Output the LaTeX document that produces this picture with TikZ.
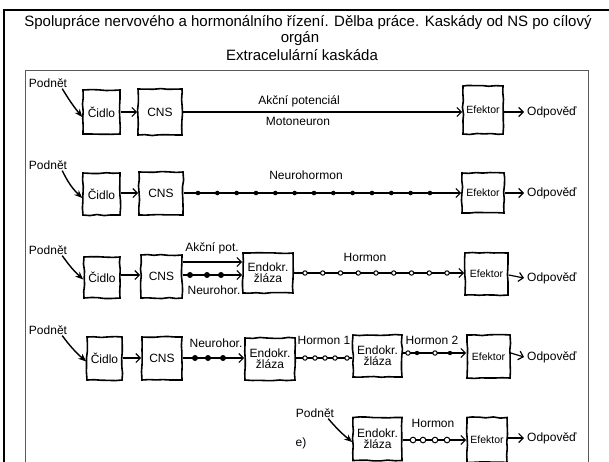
\documentclass[tikz,border=0pt]{standalone}
\usepackage{fontspec}
\setmainfont{Liberation Sans}
\usetikzlibrary{arrows.meta,decorations.pathmorphing}

\begin{document}
\begin{tikzpicture}[x=1pt,y=-1pt]
\pgfmathsetseed{11}
\tikzset{
  box/.style={draw, line width=1.6pt, inner sep=0pt, align=center,
    font=\fontsize{12}{11}\selectfont,
    decorate, decoration={random steps, segment length=7pt, amplitude=0.6pt}},
  lbl/.style={inner sep=0pt, font=\fontsize{12}{12}\selectfont},
  small/.style={font=\fontsize{10.5}{10.5}\selectfont},
  head/.style={inner sep=0pt, font=\fontsize{15}{15}\selectfont},
  arr/.style={line width=1.2pt, -{Straight Barb[length=4.5pt,width=9pt]}},
  plain/.style={line width=1.2pt},
  parr/.style={line width=1.4pt, -{Stealth[length=8pt,width=6.5pt]}},
  fdot/.style={fill=black},
  odot/.style={draw=black, fill=white, line width=1pt},
}
\useasboundingbox (0,0) rectangle (609,461);
\clip (0,0) rectangle (609,461);

% frames
\draw[line width=2pt] (3.5,470) -- (3.5,9.5) -- (615,9.5);
\draw[gray!70!black, line width=0.8pt] (25,470) -- (25,70.5) -- (588,70.5) -- (588,470);

% heading
\node[head] (t1) at (308,23) {Spolupráce nervového a hormonálního řízení. Dělba práce. Kaskády od NS po cílový};
\node[head] (t2) at (300,39) {orgán};
\node[head] (t3) at (302,55) {Extracelulární kaskáda};

% ---------- row a ----------
\node[lbl] (p1) at (48,83) {Podnět};
\node[box, minimum width=37pt, minimum height=44pt] (c1) at (101.5,112) {Čidlo};
\node[box, minimum width=44pt, minimum height=46pt] (n1) at (160,112) {CNS};
\node[box, small, minimum width=40pt, minimum height=48pt] (e1) at (483,110) {Efektor};
\node[lbl, anchor=west] (o1) at (527,112) {Odpověď};
\draw[parr] ([xshift=-5pt,yshift=-1pt]p1.south east) to[bend right=4] ([yshift=-5pt]c1.west);
\draw[arr] (c1.east |- 0,112) -- (n1.west |- 0,112);
\draw[arr] (n1.east |- 0,112) -- (e1.west |- 0,112);
\draw[arr] (e1.east |- 0,112) -- ([xshift=-3pt]o1.west);
\node[lbl] (a1) at (299,101) {Akční potenciál};
\node[lbl] (m1) at (298,121) {Motoneuron};

% ---------- row b ----------
\node[lbl] (p2) at (48,165) {Podnět};
\node[box, minimum width=37pt, minimum height=42pt] (c2) at (101.5,194) {Čidlo};
\node[box, minimum width=44pt, minimum height=43pt] (n2) at (161,193.5) {CNS};
\node[box, small, minimum width=42pt, minimum height=40pt] (e2) at (483,193) {Efektor};
\node[lbl, anchor=west] (o2) at (527,193) {Odpověď};
\draw[parr] ([xshift=-5pt,yshift=-1pt]p2.south east) to[bend right=10] ([yshift=-4pt]c2.west);
\draw[arr] (c2.east |- 0,193) -- (n2.west |- 0,193);
\draw[arr] (n2.east |- 0,193) -- (e2.west |- 0,193);
\draw[arr] (e2.east |- 0,193) -- ([xshift=-3pt]o2.west);
\foreach \i in {0,...,12} \fill[fdot] (198+19.33*\i,193) circle (2.3pt);
\node[lbl] (h2) at (306,175) {Neurohormon};

% ---------- row c ----------
\node[lbl] (p3) at (48,250) {Podnět};
\node[box, minimum width=36pt, minimum height=41pt] (c3) at (102,277.5) {Čidlo};
\node[box, minimum width=41pt, minimum height=43pt] (n3) at (161.5,276.5) {CNS};
\node[box, minimum width=50pt, minimum height=40pt] (d3) at (268,273) {Endokr.\\žláza};
\node[box, small, minimum width=43pt, minimum height=42pt] (e3) at (486.5,274) {Efektor};
\node[lbl, anchor=west] (o3) at (527,278) {Odpověď};
\draw[parr] ([xshift=-5pt,yshift=-1pt]p3.south east) to[bend right=6] ([yshift=-2pt]c3.west);
\draw[arr] (c3.east |- 0,275) -- (n3.west |- 0,275);
\draw[arr] (n3.east |- 0,262) -- (d3.west |- 0,262);
\draw[arr] (n3.east |- 0,275) -- (d3.west |- 0,275);
\foreach \x in {190,207,221} \fill[fdot] (\x,275) circle (3pt);
\draw[arr] (d3.east |- 0,273) -- (e3.west |- 0,273);
\foreach \i in {0,...,8} \filldraw[odot] (305+17.75*\i,273) circle (2.2pt);
\draw[arr] (e3.east |- 0,275) -- ([xshift=-3pt]o3.west);
\node[lbl] (a3) at (212,248) {Akční pot.};
\node[lbl] (m3) at (214,290) {Neurohor.};
\node[lbl] (h3) at (365,257) {Hormon};

% ---------- row d ----------
\node[lbl] (p4) at (48,330) {Podnět};
\node[box, minimum width=35pt, minimum height=43pt] (c4) at (104.5,358.5) {Čidlo};
\node[box, minimum width=40pt, minimum height=43pt] (n4) at (162,358.5) {CNS};
\node[box, minimum width=50pt, minimum height=42pt] (d4) at (270,359) {Endokr.\\žláza};
\node[box, minimum width=49pt, minimum height=42pt] (g4) at (377.5,356) {Endokr.\\žláza};
\node[box, small, minimum width=43pt, minimum height=43pt] (e4) at (488.5,356.5) {Efektor};
\node[lbl, anchor=west] (o4) at (527,357) {Odpověď};
\draw[parr] ([xshift=-5pt,yshift=-1pt]p4.south east) to[bend right=6] ([yshift=-3pt]c4.west);
\draw[arr] (c4.east |- 0,358) -- (n4.west |- 0,358);
\draw[arr] (n4.east |- 0,358) -- (d4.west |- 0,358);
\foreach \x in {195,208,223} \fill[fdot] (\x,358) circle (3pt);
\draw[plain] (d4.east |- 0,358) -- (g4.west |- 0,358);
\foreach \x in {305,315,325,335,347} \filldraw[odot] (\x,358) circle (2.2pt);
\draw[arr] (g4.east |- 0,353) -- (e4.west |- 0,353);
\foreach \x in {408,435} \filldraw[odot] (\x,353) circle (2.2pt);
\foreach \x in {417,450} \fill[fdot] (\x,353) circle (2.2pt);
\draw[arr] (e4.east |- 0,353) -- ([xshift=-3pt]o4.west);
\node[lbl] (m4) at (216,343) {Neurohor.};
\node[lbl] (h4) at (324,340) {Hormon 1};
\node[lbl] (k4) at (432,340) {Hormon 2};

% ---------- row e ----------
\node[lbl] (p5) at (315,413) {Podnět};
\node[lbl] (l5) at (301,443) {e)};
\node[box, minimum width=49pt, minimum height=43pt] (d5) at (377.5,439) {Endokr.\\žláza};
\node[box, small, minimum width=40pt, minimum height=45pt] (e5) at (487,440) {Efektor};
\node[lbl, anchor=west] (o5) at (527,438) {Odpověď};
\draw[parr] ([xshift=-6pt,yshift=-1pt]p5.south east) to[bend right=5] ([yshift=-3pt]d5.west);
\draw[arr] (d5.east |- 0,440) -- (e5.west |- 0,440);
\foreach \x in {413,423,435,447} \filldraw[odot] (\x,440) circle (2.8pt);
\draw[arr] (e5.east |- 0,438) -- ([xshift=-3pt]o5.west);
\node[lbl] (h5) at (433,423) {Hormon};
\end{tikzpicture}
\end{document}
